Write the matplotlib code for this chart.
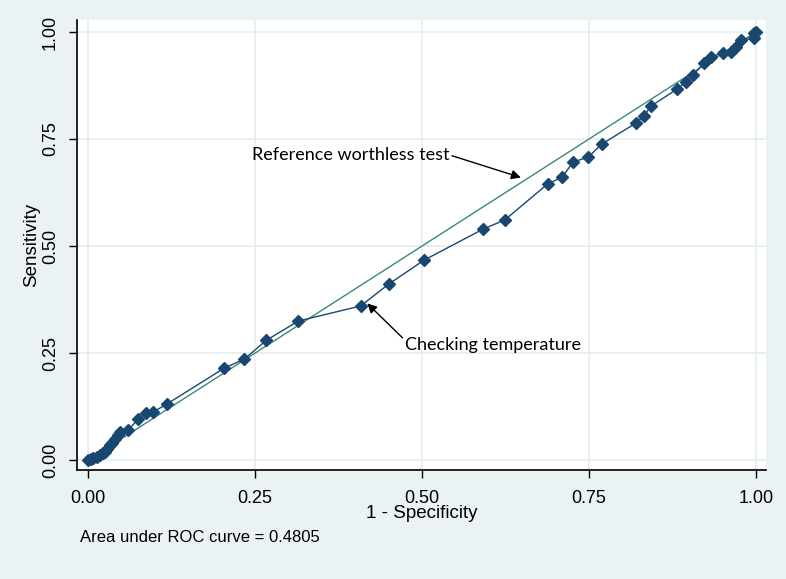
import matplotlib
matplotlib.use("Agg")
import matplotlib.pyplot as plt

# ROC curve data (1 - specificity, sensitivity)
fpr = [0.000, 0.004, 0.008, 0.013, 0.018, 0.022, 0.025, 0.029, 0.033, 0.036, 0.040, 0.045,
       0.048, 0.060, 0.075, 0.087, 0.097, 0.118, 0.204, 0.234, 0.267, 0.315, 0.408, 0.450,
       0.503, 0.592, 0.624, 0.688, 0.710, 0.726, 0.749, 0.769, 0.820, 0.832, 0.843, 0.882,
       0.895, 0.906, 0.922, 0.933, 0.950, 0.962, 0.970, 0.978, 0.997, 0.997, 1.000]
tpr = [0.000, 0.002, 0.005, 0.007, 0.012, 0.016, 0.019, 0.027, 0.035, 0.040, 0.050, 0.058,
       0.065, 0.070, 0.096, 0.110, 0.112, 0.131, 0.215, 0.236, 0.280, 0.325, 0.360, 0.411,
       0.467, 0.540, 0.561, 0.645, 0.661, 0.696, 0.708, 0.738, 0.787, 0.804, 0.827, 0.867,
       0.883, 0.900, 0.927, 0.942, 0.951, 0.953, 0.965, 0.981, 0.986, 0.997, 1.000]
ref = [0.0, 1.0]
ticks = [0.0, 0.25, 0.5, 0.75, 1.0]
tick_labels = ["0.00", "0.25", "0.50", "0.75", "1.00"]
auc_text = "Area under ROC curve = 0.4805"

bg = "#EAF2F3"
navy = "#1A476F"
green = "#3A8A74"

fig = plt.figure(figsize=(7.86, 5.79), dpi=100, facecolor=bg)
ax = fig.add_axes([0.098, 0.188, 0.8766, 0.7775])
ax.set_facecolor("white")

ax.set_xlim(-0.0165, 1.015)
ax.set_ylim(-0.0234, 1.028)
for t in ticks:
    ax.axhline(t, color="#E4EDF0", lw=1.2, zorder=0)
    ax.axvline(t, color="#E4EDF0", lw=1.2, zorder=0)

ax.plot(ref, ref, color=green, lw=1.0, zorder=2)
ax.plot(fpr, tpr, color=navy, lw=1.0, marker="D", ms=6.5, mec=navy, mfc=navy, zorder=3)

ax.set_xticks(ticks)
ax.set_xticklabels(tick_labels)
ax.set_yticks(ticks)
ax.set_yticklabels(tick_labels, rotation=90, va="center")
ax.tick_params(labelsize=13, length=6, width=1, colors="black", direction="out")
ax.tick_params(axis="x", pad=8)
ax.tick_params(axis="y", pad=7)
for lbl in ax.get_xticklabels() + ax.get_yticklabels():
    lbl.set_fontfamily("Liberation Sans")
for s in ["top", "right"]:
    ax.spines[s].set_visible(False)
for s in ["left", "bottom"]:
    ax.spines[s].set_color("black")
    ax.spines[s].set_linewidth(1.2)

ax.set_xlabel("1 - Specificity", fontsize=13.5, family="Liberation Sans", labelpad=-1)
ax.set_ylabel("Sensitivity", fontsize=13.5, family="Liberation Sans", labelpad=1)

ax.annotate("Reference worthless test", xy=(0.648, 0.66), xytext=(0.245, 0.713),
            fontsize=13, family="Lato", va="center", ha="left",
            arrowprops=dict(arrowstyle="-|>", color="black", lw=1, mutation_scale=14,
                            shrinkA=0, shrinkB=0, relpos=(1.0, 0.5)))
ax.annotate("Checking temperature", xy=(0.418, 0.366), xytext=(0.475, 0.268),
            fontsize=13, family="Lato", va="center", ha="left",
            arrowprops=dict(arrowstyle="-|>", color="black", lw=1, mutation_scale=14,
                            shrinkA=0, shrinkB=0, relpos=(0.0, 0.8)))

fig.text(80 / 786, 1 - 538 / 579, auc_text, fontsize=12, family="Liberation Sans",
         va="center", ha="left")

fig.savefig("out.png", dpi=100, facecolor=bg)
